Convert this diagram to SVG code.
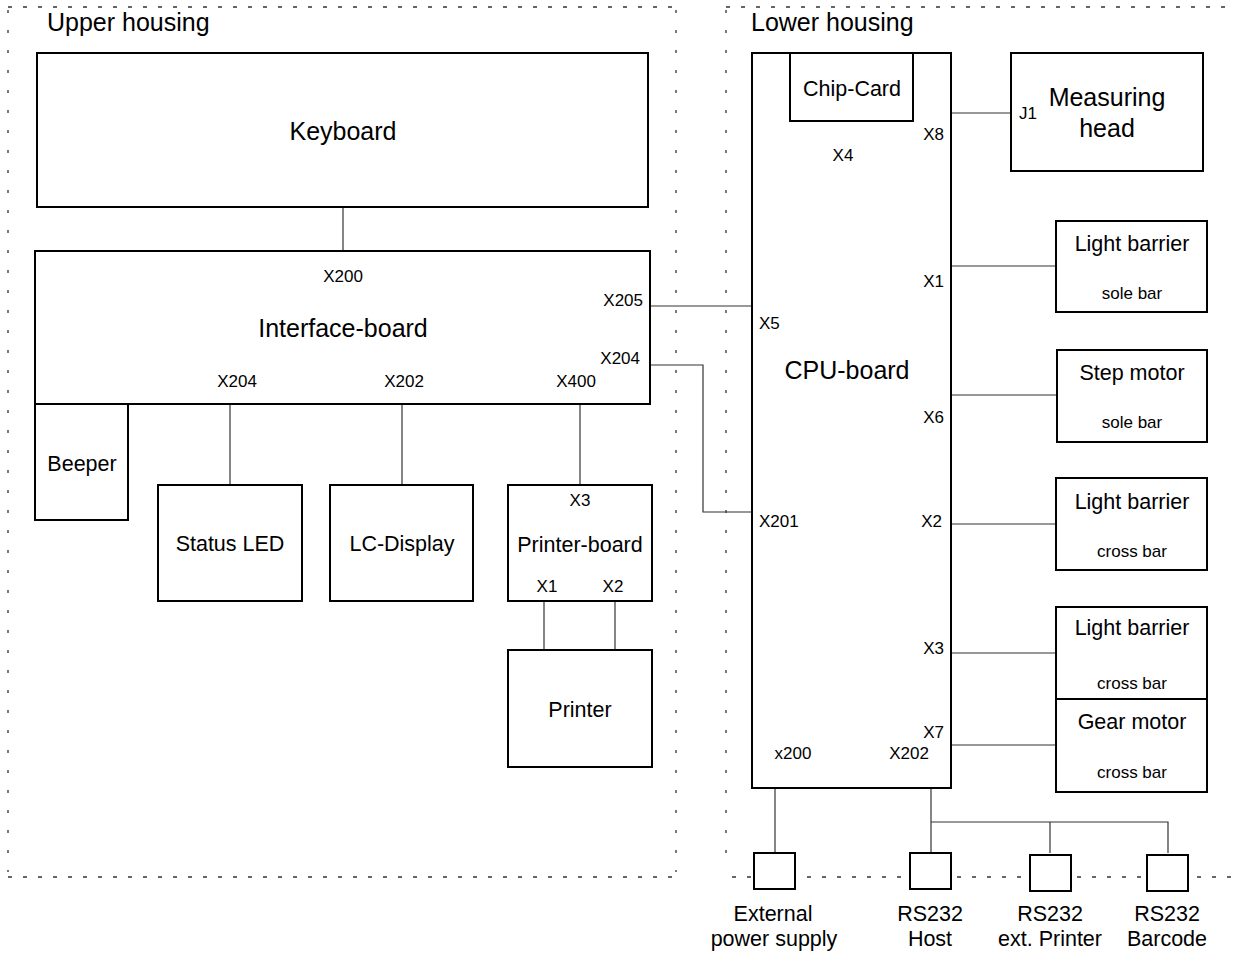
<svg xmlns="http://www.w3.org/2000/svg" width="1235" height="956" viewBox="0 0 1235 956">
<style>
text{font-family:"Liberation Sans",Arial,sans-serif;fill:#000}
.big{font-size:25px}
.mid{font-size:21.5px}
.sm{font-size:17px}
.c{text-anchor:middle}
.r{text-anchor:end}
.box{fill:#fff;stroke:#000;stroke-width:2}
.conn{fill:none;stroke:#333;stroke-width:1.2}
.dh{fill:none;stroke:#333;stroke-width:1.3;stroke-dasharray:4 11}
.dv{fill:none;stroke:#333;stroke-width:1.3;stroke-dasharray:3 17}
</style>
<rect width="1235" height="956" fill="#fff"/>
<g id="housings">
<line class="dh" x1="8" y1="7" x2="676" y2="7"/>
<line class="dv" x1="8" y1="10" x2="8" y2="872"/>
<line class="dv" x1="676" y1="10" x2="676" y2="872"/>
<line class="dh" x1="8" y1="877" x2="676" y2="877"/>
<line class="dh" x1="726" y1="7" x2="1235" y2="7"/>
<line class="dv" x1="726" y1="10" x2="726" y2="866"/>
<line class="dh" x1="732" y1="877" x2="1235" y2="877"/>
<text class="big" x="47" y="31">Upper housing</text>
<text class="big" x="751" y="31">Lower housing</text>
</g>
<g id="connectors">
<line class="conn" x1="343" y1="207" x2="343" y2="251"/>
<line class="conn" x1="230" y1="404" x2="230" y2="485"/>
<line class="conn" x1="402" y1="404" x2="402" y2="485"/>
<line class="conn" x1="580" y1="404" x2="580" y2="485"/>
<line class="conn" x1="544" y1="601" x2="544" y2="650"/>
<line class="conn" x1="615" y1="601" x2="615" y2="650"/>
<line class="conn" x1="650" y1="306" x2="752" y2="306"/>
<polyline class="conn" points="650,365 703,365 703,512 752,512"/>
<line class="conn" x1="951" y1="113" x2="1011" y2="113"/>
<line class="conn" x1="951" y1="266" x2="1056" y2="266"/>
<line class="conn" x1="951" y1="395" x2="1057" y2="395"/>
<line class="conn" x1="951" y1="524" x2="1056" y2="524"/>
<line class="conn" x1="951" y1="653" x2="1056" y2="653"/>
<line class="conn" x1="951" y1="745" x2="1056" y2="745"/>
<line class="conn" x1="775" y1="788" x2="775" y2="853"/>
<line class="conn" x1="931" y1="788" x2="931" y2="853"/>
<polyline class="conn" points="931,822 1168,822 1168,853"/>
<line class="conn" x1="1050" y1="822" x2="1050" y2="853"/>
</g>
<g id="keyboard">
<rect class="box" x="37" y="53" width="611" height="154"/>
<text class="big c" x="343" y="140">Keyboard</text>
</g>
<g id="interface-board">
<rect class="box" x="35" y="251" width="615" height="153"/>
<text class="sm c" x="343" y="282">X200</text>
<text class="big c" x="343" y="337">Interface-board</text>
<text class="sm r" x="643" y="306">X205</text>
<text class="sm r" x="640" y="364">X204</text>
<text class="sm c" x="237" y="387">X204</text>
<text class="sm c" x="404" y="387">X202</text>
<text class="sm c" x="576" y="387">X400</text>
</g>
<g id="beeper">
<rect class="box" x="35" y="404" width="93" height="116"/>
<text class="mid c" x="82" y="471">Beeper</text>
</g>
<g id="status-led">
<rect class="box" x="158" y="485" width="144" height="116"/>
<text class="mid c" x="230" y="551">Status LED</text>
</g>
<g id="lc-display">
<rect class="box" x="330" y="485" width="143" height="116"/>
<text class="mid c" x="402" y="551">LC-Display</text>
</g>
<g id="printer-board">
<rect class="box" x="508" y="485" width="144" height="116"/>
<text class="sm c" x="580" y="506">X3</text>
<text class="mid c" x="580" y="552">Printer-board</text>
<text class="sm c" x="547" y="592">X1</text>
<text class="sm c" x="613" y="592">X2</text>
</g>
<g id="printer">
<rect class="box" x="508" y="650" width="144" height="117"/>
<text class="mid c" x="580" y="717">Printer</text>
</g>
<g id="cpu-board">
<rect class="box" x="752" y="53" width="199" height="735"/>
<text class="big c" x="847" y="379">CPU-board</text>
<text class="sm c" x="843" y="161">X4</text>
<text class="sm r" x="944" y="140">X8</text>
<text class="sm" x="759" y="329">X5</text>
<text class="sm" x="759" y="527">X201</text>
<text class="sm r" x="944" y="287">X1</text>
<text class="sm r" x="944" y="423">X6</text>
<text class="sm r" x="942" y="527">X2</text>
<text class="sm r" x="944" y="654">X3</text>
<text class="sm r" x="944" y="738">X7</text>
<text class="sm c" x="793" y="759">x200</text>
<text class="sm c" x="909" y="759">X202</text>
</g>
<g id="chip-card">
<rect class="box" x="790" y="53" width="123" height="68"/>
<text class="mid c" x="852" y="96">Chip-Card</text>
</g>
<g id="measuring-head">
<rect class="box" x="1011" y="53" width="192" height="118"/>
<text class="sm" x="1019" y="119">J1</text>
<text class="big c" x="1107" y="106">Measuring</text>
<text class="big c" x="1107" y="137">head</text>
</g>
<g id="light-barrier-sole">
<rect class="box" x="1056" y="221" width="151" height="91"/>
<text class="mid c" x="1132" y="251">Light barrier</text>
<text class="sm c" x="1132" y="299">sole bar</text>
</g>
<g id="step-motor">
<rect class="box" x="1057" y="350" width="150" height="92"/>
<text class="mid c" x="1132" y="380">Step motor</text>
<text class="sm c" x="1132" y="428">sole bar</text>
</g>
<g id="light-barrier-cross-1">
<rect class="box" x="1056" y="478" width="151" height="92"/>
<text class="mid c" x="1132" y="509">Light barrier</text>
<text class="sm c" x="1132" y="557">cross bar</text>
</g>
<g id="light-barrier-cross-2">
<rect class="box" x="1056" y="607" width="151" height="92"/>
<text class="mid c" x="1132" y="635">Light barrier</text>
<text class="sm c" x="1132" y="689">cross bar</text>
</g>
<g id="gear-motor">
<rect class="box" x="1056" y="699" width="151" height="93"/>
<text class="mid c" x="1132" y="729">Gear motor</text>
<text class="sm c" x="1132" y="778">cross bar</text>
</g>
<g id="ext-power">
<rect class="box" x="754" y="853" width="41" height="36"/>
<text class="mid c" x="773" y="921">External</text>
<text class="mid c" x="774" y="946">power supply</text>
</g>
<g id="rs232-host">
<rect class="box" x="910" y="853" width="41" height="36"/>
<text class="mid c" x="930" y="921">RS232</text>
<text class="mid c" x="930" y="946">Host</text>
</g>
<g id="rs232-printer">
<rect class="box" x="1030" y="855" width="41" height="36"/>
<text class="mid c" x="1050" y="921">RS232</text>
<text class="mid c" x="1050" y="946">ext. Printer</text>
</g>
<g id="rs232-barcode">
<rect class="box" x="1147" y="855" width="41" height="36"/>
<text class="mid c" x="1167" y="921">RS232</text>
<text class="mid c" x="1167" y="946">Barcode</text>
</g>
</svg>
